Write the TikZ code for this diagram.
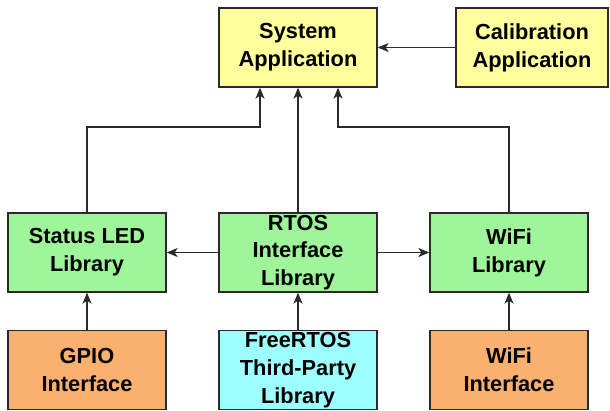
\documentclass[tikz,border=0pt]{standalone}
\usepackage{fontspec}
\setmainfont{Liberation Sans}
\usetikzlibrary{arrows.meta}
\definecolor{cyel}{HTML}{FFFF9E}
\definecolor{cgrn}{HTML}{9EF59A}
\definecolor{corg}{HTML}{FAB06E}
\definecolor{ccyn}{HTML}{9EFFFF}
\definecolor{cline}{HTML}{2A2A2A}
\begin{document}
\begin{tikzpicture}[x=1pt,y=-1pt,
  box/.style={draw=cline,line width=1.3pt,minimum width=158pt,minimum height=79pt,
    inner sep=0pt,align=center,font=\fontsize{21.8}{27.8}\selectfont\bfseries},
  arr/.style={draw=cline,line width=1.3pt,-{Stealth[length=11pt,width=9pt,inset=3pt]}}]
\useasboundingbox (0,0) rectangle (610,410);
\node[box,fill=cyel] (sys) at (298,47.5) {System\\Application};
\node[box,fill=cyel,minimum width=152pt] (cal) at (532,47.5) {Calibration\\Application};
\node[box,fill=cgrn] (led) at (87,252.5) {Status LED\\Library};
\node[box,fill=cgrn] (rtos) at (298,252.5) {RTOS\\Interface\\Library};
\node[box,fill=cgrn] (wlib) at (509,252.5) {WiFi\\Library};
\node[box,fill=corg] (gpio) at (87,370) {GPIO\\Interface};
\node[box,fill=ccyn] (free) at (298,370) {FreeRTOS\\Third-Party\\Library};
\node[box,fill=corg] (wif) at (509,370) {WiFi\\Interface};
\coordinate (j1) at (260,127);
\coordinate (j2) at (338,127);
\draw[arr] (cal) -- (sys);
\draw[arr] (led.north) |- (j1) -- (j1 |- sys.south);
\draw[arr] (rtos) -- (sys);
\draw[arr] (wlib.north) |- (j2) -- (j2 |- sys.south);
\draw[arr] (rtos) -- (led);
\draw[arr] (rtos) -- (wlib);
\draw[arr] (gpio) -- (led);
\draw[arr] (free) -- (rtos);
\draw[arr] (wif) -- (wlib);
\end{tikzpicture}
\end{document}
